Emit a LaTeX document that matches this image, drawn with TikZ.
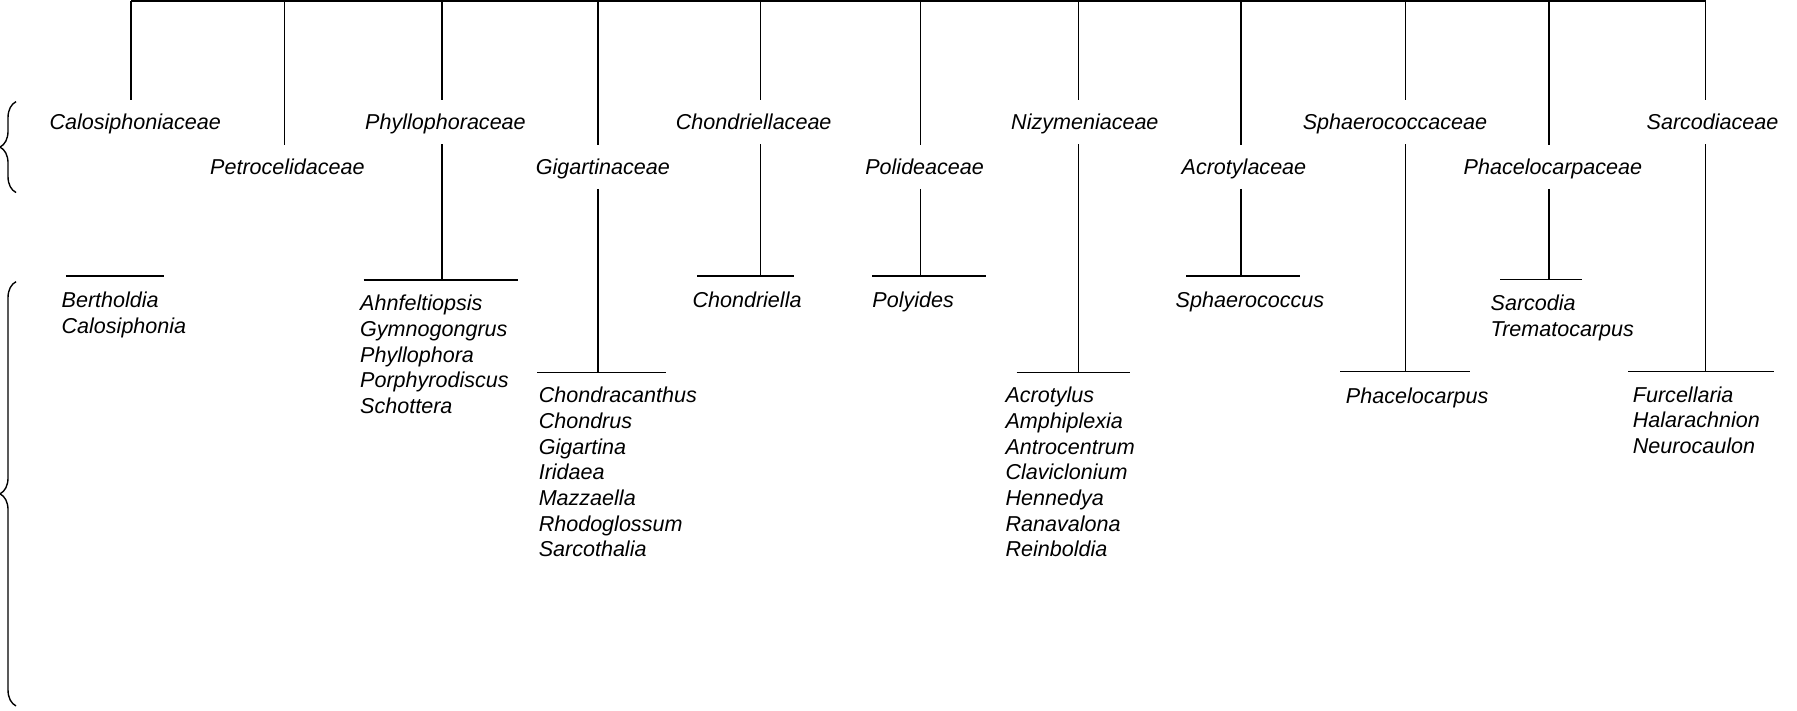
\documentclass[tikz,border=0pt]{standalone}
\usepackage{fontspec}
\setmainfont{Liberation Sans}
\usetikzlibrary{decorations.pathreplacing}

\tikzset{
  tree/.style={black, line width=0.65pt},
  fam/.style={font=\itshape\fontsize{9.4}{11.2}\selectfont, inner sep=0pt,
    minimum height=19pt, text height=6.6pt, text depth=0pt},
  gen/.style={font=\itshape\fontsize{9.4}{11.2}\selectfont, inner sep=0pt,
    align=left, anchor=base west},
  curly/.style={black, line width=0.6pt, decorate, decoration={brace, amplitude=7pt}},
}

\begin{document}
\begin{tikzpicture}[x=0.5pt, y=-0.5pt]
\useasboundingbox (0,0) rectangle (1568,620);

% top bar
\coordinate (t1) at (114.3,1);
\coordinate (t2) at (248.1,1);
\coordinate (t3) at (385.6,1);
\coordinate (t4) at (522,1);
\coordinate (t5) at (663.7,1);
\coordinate (t6) at (803.3,1);
\coordinate (t7) at (941,1);
\coordinate (t8) at (1082.9,1);
\coordinate (t9) at (1226.4,1);
\coordinate (t10) at (1351.6,1);
\coordinate (t11) at (1488.2,1);
\draw [tree] (t1) -- (t11);

% families
\node [fam] (calo) at (118,106.5) {Calosiphoniaceae};
\node [fam] (petro) at (250.8,145.5) {Petrocelidaceae};
\node [fam] (phyllo) at (388.7,106.5) {Phyllophoraceae};
\node [fam] (gigart) at (526,145.5) {Gigartinaceae};
\node [fam] (chondr) at (657.6,106.5) {Chondriellaceae};
\node [fam] (polid) at (806.8,145.5) {Polideaceae};
\node [fam] (nizym) at (946.6,106.5) {Nizymeniaceae};
\node [fam] (acrot) at (1085.4,145.5) {Acrotylaceae};
\node [fam] (sphaer) at (1217.2,106.5) {Sphaerococcaceae};
\node [fam] (phacel) at (1355,145.5) {Phacelocarpaceae};
\node [fam] (sarco) at (1494.3,106.5) {Sarcodiaceae};

\draw [tree] (t1) -- (t1 |- calo.north);
\draw [tree] (t2) -- (t2 |- petro.north);
\draw [tree] (t3) -- (t3 |- phyllo.north);
\draw [tree] (t4) -- (t4 |- gigart.north);
\draw [tree] (t5) -- (t5 |- chondr.north);
\draw [tree] (t6) -- (t6 |- polid.north);
\draw [tree] (t7) -- (t7 |- nizym.north);
\draw [tree] (t8) -- (t8 |- acrot.north);
\draw [tree] (t9) -- (t9 |- sphaer.north);
\draw [tree] (t10) -- (t10 |- phacel.north);
\draw [tree] (t11) -- (t11 |- sarco.north);

% bars over the genera
\coordinate (calo-l) at (57.4,240.8);
\coordinate (calo-r) at (142.9,240.8);
\coordinate (phyllo-l) at (317.2,244.3);
\coordinate (phyllo-r) at (452.4,244.3);
\coordinate (gigart-l) at (468.6,324.9);
\coordinate (gigart-r) at (580.9,324.9);
\coordinate (chondr-l) at (608.2,240.8);
\coordinate (chondr-r) at (692.7,240.8);
\coordinate (polid-l) at (761.2,240.8);
\coordinate (polid-r) at (860.3,240.8);
\coordinate (nizym-l) at (887,324.9);
\coordinate (nizym-r) at (985.6,324.9);
\coordinate (acrot-l) at (1035,240.8);
\coordinate (acrot-r) at (1134,240.8);
\coordinate (sphaer-l) at (1169.5,324.3);
\coordinate (sphaer-r) at (1282.6,324.3);
\coordinate (phacel-l) at (1309,243.7);
\coordinate (phacel-r) at (1380,243.7);
\coordinate (sarco-l) at (1420.8,324.3);
\coordinate (sarco-r) at (1547.6,324.3);

\draw [tree] (calo-l) -- (calo-r);
\draw [tree] (phyllo-l) -- (phyllo-r);
\draw [tree] (gigart-l) -- (gigart-r);
\draw [tree] (chondr-l) -- (chondr-r);
\draw [tree] (polid-l) -- (polid-r);
\draw [tree] (nizym-l) -- (nizym-r);
\draw [tree] (acrot-l) -- (acrot-r);
\draw [tree] (sphaer-l) -- (sphaer-r);
\draw [tree] (phacel-l) -- (phacel-r);
\draw [tree] (sarco-l) -- (sarco-r);

\draw [tree] (t3 |- phyllo.south) -- (t3 |- phyllo-l);
\draw [tree] (t4 |- gigart.south) -- (t4 |- gigart-l);
\draw [tree] (t5 |- chondr.south) -- (t5 |- chondr-l);
\draw [tree] (t6 |- polid.south) -- (t6 |- polid-l);
\draw [tree] (t7 |- nizym.south) -- (t7 |- nizym-l);
\draw [tree] (t8 |- acrot.south) -- (t8 |- acrot-l);
\draw [tree] (t9 |- sphaer.south) -- (t9 |- sphaer-l);
\draw [tree] (t10 |- phacel.south) -- (t10 |- phacel-l);
\draw [tree] (t11 |- sarco.south) -- (t11 |- sarco-l);

% genera (y is the baseline of the last line)
\node [gen] (calo-g) at (53.4,291) {Bertholdia\\Calosiphonia};
\node [gen] (phyllo-g) at (313.9,360.7) {Ahnfeltiopsis\\Gymnogongrus\\Phyllophora\\Porphyrodiscus\\Schottera};
\node [gen] (gigart-g) at (469.7,485.8) {Chondracanthus\\Chondrus\\Gigartina\\Iridaea\\Mazzaella\\Rhodoglossum\\Sarcothalia};
\node [gen] (chondr-g) at (603.9,268.3) {Chondriella};
\node [gen] (polid-g) at (760.9,268.3) {Polyides};
\node [gen] (nizym-g) at (877,485.8) {Acrotylus\\Amphiplexia\\Antrocentrum\\Claviclonium\\Hennedya\\Ranavalona\\Reinboldia};
\node [gen] (acrot-g) at (1025.5,268.3) {Sphaerococcus};
\node [gen] (sphaer-g) at (1174,351.8) {Phacelocarpus};
\node [gen] (phacel-g) at (1300.3,293.6) {Sarcodia\\Trematocarpus};
\node [gen] (sarco-g) at (1424.4,395.6) {Furcellaria\\Halarachnion\\Neurocaulon};

% braces on the left
\draw [curly] (14,168) -- (14,88.7);
\draw [curly] (14,616) -- (14,245.8);

\end{tikzpicture}
\end{document}
